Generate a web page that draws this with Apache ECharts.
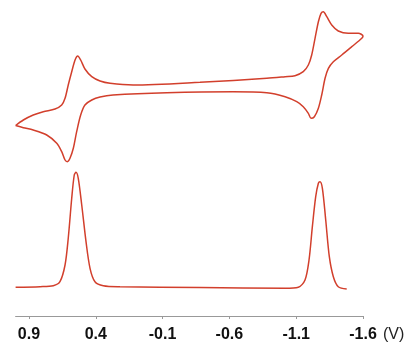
<!DOCTYPE html>
<html>
<head>
<meta charset="utf-8">
<script src="https://cdn.jsdelivr.net/npm/echarts@6/dist/echarts.min.js"></script>
<style>
  html, body { margin: 0; padding: 0; background: #fff; }
  #main { width: 412px; height: 343px; }
</style>
</head>
<body>
<div id="main"></div>
<script>
// potential (V), x axis runs from +1.0 on the left to -1.6 on the right
var xTicks = [0.9, 0.4, -0.1, -0.6, -1.1, -1.6];

// cyclic voltammogram, one closed loop (arbitrary current units)
var cvE = [1.0, 0.942, 0.868, 0.793, 0.705, 0.655, 0.630, 0.606, 0.580, 0.555, 0.535, 0.513, 0.481, 0.430, 0.368, 0.293, 0.121,
    -0.380, -0.880, -1.017, -1.091, -1.153, -1.191, -1.216, -1.241, -1.266, -1.286, -1.303, -1.329, -1.366, -1.415, -1.490, -1.565, -1.600,
    -1.591, -1.516, -1.441, -1.378, -1.341, -1.316, -1.291, -1.266, -1.236, -1.211, -1.191, -1.153, -1.104, -1.017, -0.880, -0.627, -0.131,
    0.271, 0.368, 0.430, 0.481, 0.513, 0.543, 0.568, 0.593, 0.613, 0.630, 0.655, 0.692, 0.767, 0.868, 0.942, 1.0];
var cvI = [19.05, 19.6, 20.1, 20.43, 20.7, 21.1, 21.77, 23.1, 24.43, 25.6, 26.0, 25.6, 24.7, 23.93, 23.5, 23.27, 23.1,
    23.37, 23.77, 23.93, 24.03, 24.43, 25.1, 26.1, 27.77, 29.43, 30.27, 30.43, 29.93, 29.1, 28.5, 28.27, 28.27, 28.0,
    27.77, 26.93, 26.1, 25.43, 24.77, 23.77, 22.1, 20.77, 19.93, 19.77, 20.27, 20.93, 21.43, 21.93, 22.33, 22.43, 22.33,
    22.1, 21.9, 21.6, 21.1, 20.1, 18.43, 16.77, 15.77, 15.43, 15.6, 16.43, 17.27, 18.1, 18.6, 18.83, 19.05];

// differential pulse voltammogram
var dpvE = [1.0, 0.817, 0.718, 0.668, 0.630, 0.606, 0.580, 0.561, 0.548, 0.531, 0.505, 0.473, 0.443, 0.406, 0.344, 0.219,
    -0.380, -1.017, -1.116, -1.166, -1.196, -1.221, -1.246, -1.266, -1.278, -1.296, -1.321, -1.348, -1.378, -1.415, -1.478];
var dpvI = [2.87, 2.93, 3.03, 3.43, 5.1, 7.77, 11.77, 14.1, 14.37, 13.77, 11.1, 7.43, 4.77, 3.43, 3.03, 2.93,
    2.85, 2.77, 2.87, 3.6, 5.6, 8.93, 11.93, 13.27, 13.43, 12.77, 9.6, 5.93, 3.93, 2.93, 2.7];

var lineColor = '#d23f2c';

function pairs(xs, ys) {
    var out = [];
    for (var i = 0; i < xs.length; i++) {
        out.push([xs[i], ys[i]]);
    }
    return out;
}

var chart = echarts.init(document.getElementById('main'));

var option = {
    animation: false,
    grid: {
        left: 15.6,
        right: 49,
        top: 0,
        bottom: 27,
        containLabel: false
    },
    xAxis: {
        type: 'value',
        inverse: true,
        min: -1.6,
        max: 1.0,
        name: '(V)',
        nameLocation: 'start',
        nameGap: 20,
        nameTextStyle: {
            color: '#222',
            fontFamily: 'Liberation Sans',
            fontSize: 16,
            verticalAlign: 'top',
            align: 'left',
            padding: [11, 0, 0, 0]
        },
        splitLine: { show: false },
        axisLine: {
            lineStyle: { color: '#999', width: 1 }
        },
        axisTick: {
            customValues: xTicks,
            length: 3,
            lineStyle: { color: '#999' }
        },
        axisLabel: {
            customValues: xTicks,
            margin: 11,
            color: '#111',
            fontFamily: 'Liberation Sans',
            fontWeight: 'bold',
            fontSize: 16
        }
    },
    yAxis: {
        type: 'value',
        show: false,
        min: 0,
        max: 31.6
    },
    series: [
        {
            name: 'CV',
            type: 'line',
            data: pairs(cvE, cvI),
            smooth: 0.3,
            showSymbol: false,
            lineStyle: { color: lineColor, width: 1.5 }
        },
        {
            name: 'DPV',
            type: 'line',
            data: pairs(dpvE, dpvI),
            smooth: 0.3,
            showSymbol: false,
            lineStyle: { color: lineColor, width: 1.5 }
        }
    ]
};

chart.setOption(option);
</script>
</body>
</html>
